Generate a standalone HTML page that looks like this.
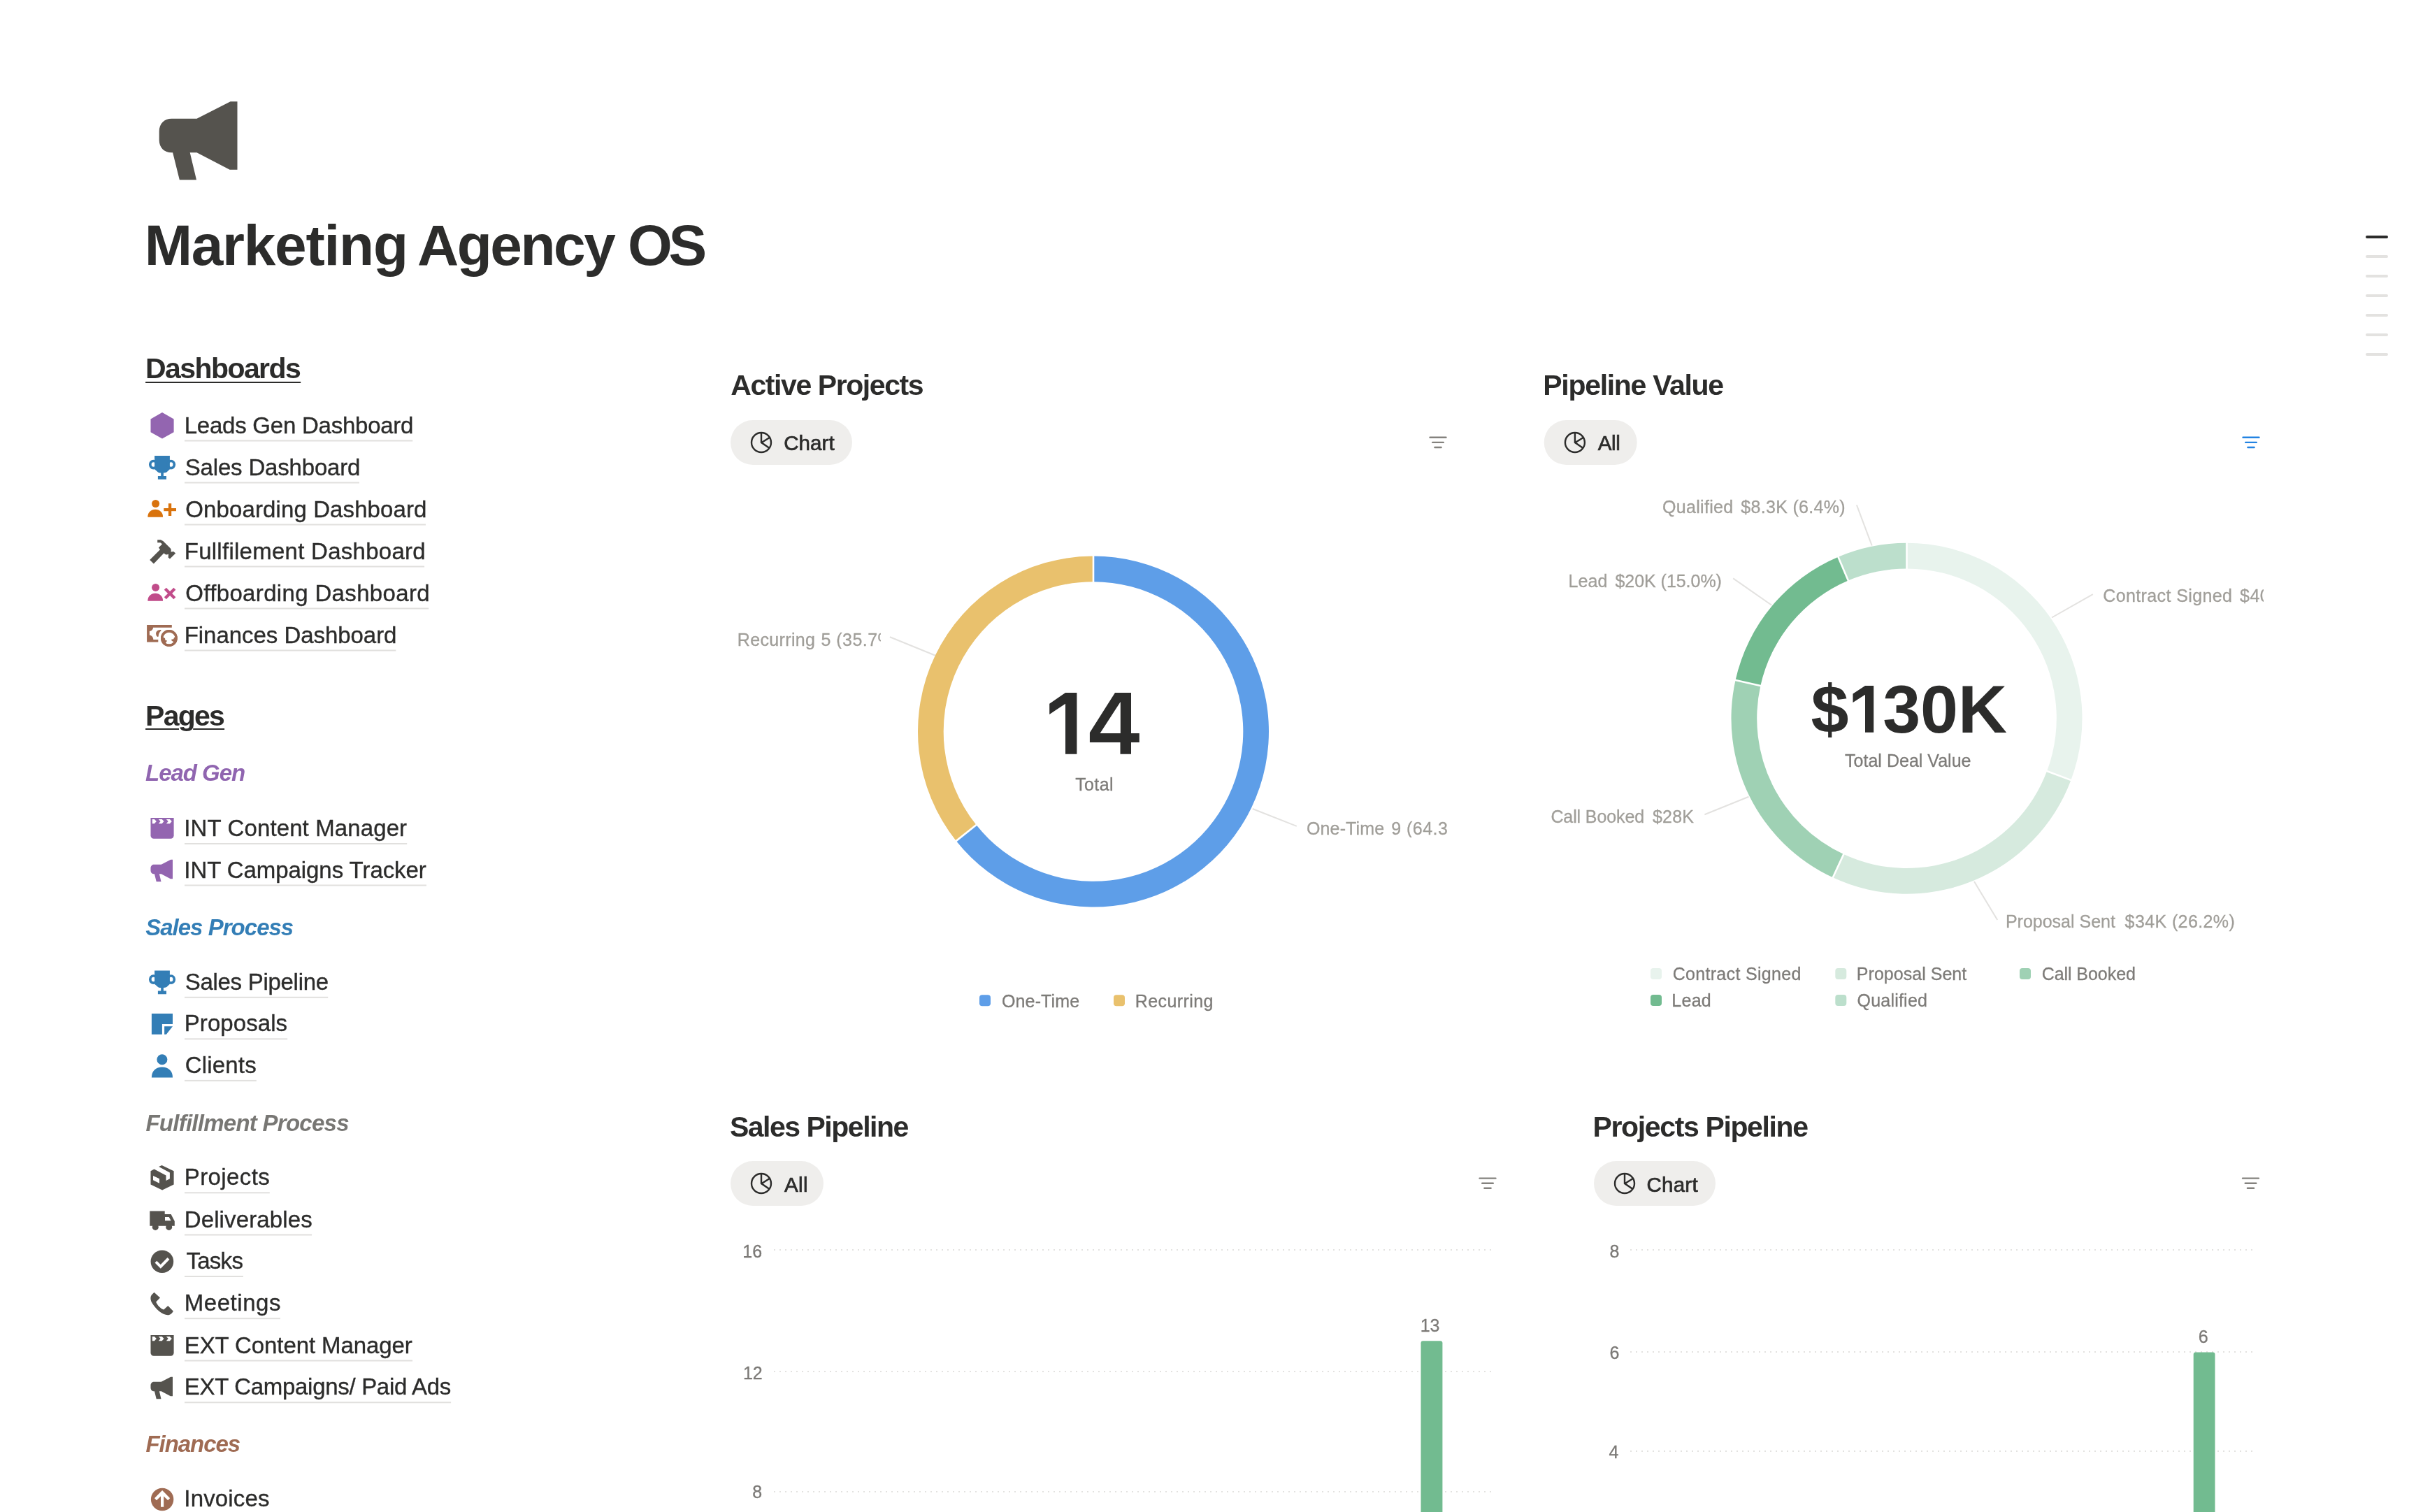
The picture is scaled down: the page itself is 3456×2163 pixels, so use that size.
<!DOCTYPE html>
<html lang="en"><head><meta charset="utf-8"><title>Marketing Agency OS</title>
<style>
html,body{margin:0;padding:0;background:#fff;}
body{width:3456px;height:2163px;position:relative;overflow:hidden;font-family:"Liberation Sans",sans-serif;}
.t{position:absolute;white-space:nowrap;}
#tx{position:absolute;left:0;top:0;width:3456px;height:2163px;will-change:transform;}
svg{position:absolute;left:0;top:0;}
</style></head><body>
<svg width="3456" height="2163" viewBox="0 0 3456 2163">
<path transform="translate(227.7 145.2) scale(1)" d="M17.8 24.5H53.8L101.9 0H111.8V97.6H100.9L53.8 73H44L53.3 112H29.1L19.4 73H17.8C7.3 73 0 65.8 0 55.2V42.5C0 31.8 7.3 24.5 17.8 24.5Z" fill="#55534e"/>
<polygon points="232,590.1 248.6,599.5 248.6,618.3 232,627.6 215.5,618.3 215.5,599.5" fill="#9365b0"/>
<g transform="translate(212.9 652)" fill="#337eb6"><path d="M8.2 0H30V19.2L25.5 23.6C24.2 24.3 22.6 24.6 21 24.6V29.1H25.1V33.7H13V29.1H17.3V24.6C15.8 24.6 14.6 24.3 13.4 23.7L8.2 19.2Z"/><ellipse cx="6.6" cy="12.6" rx="4.7" ry="5.1" fill="none" stroke="#337eb6" stroke-width="3.7"/><ellipse cx="31.7" cy="12.6" rx="4.7" ry="5.1" fill="none" stroke="#337eb6" stroke-width="3.7"/></g>
<circle cx="222.6" cy="720.5" r="5.5" fill="#d9730d"/><path d="M211.3 739.8C211.3 732.8 216.0 728.8 222.2 728.8C228.4 728.8 233.1 732.8 233.1 739.8Z" fill="#d9730d"/>
<rect x="234.3" y="727" width="17.7" height="4.2" fill="#d9730d"/><rect x="240.9" y="720.2" width="4.3" height="17.8" fill="#d9730d"/>
<polygon points="214.2,801.0 219.9,806.6 234.5,791.3 236.3,793.1 238.4,793.5 241.0,792.8 240.7,797.6 243.0,799.6 251.2,791.4 248.2,789.1 244.5,789.4 244.8,786.4 243.9,784.6 233.3,773.9 229.9,772.2 225.2,772.2 225.2,776.3 229.3,776.3 232.0,778.2 226.9,783.5 229.0,786.2" fill="#55534e"/>
<circle cx="222.6" cy="840.4" r="5.5" fill="#c14c8a"/><path d="M211.3 859.7C211.3 852.7 216.0 848.7 222.2 848.7C228.4 848.7 233.1 852.7 233.1 859.7Z" fill="#c14c8a"/>
<g transform="translate(243.1 849) rotate(45)" fill="#c14c8a"><rect x="-9.6" y="-2.15" width="19.2" height="4.3"/><rect x="-2.15" y="-9.6" width="4.3" height="19.2"/></g>
<g fill="#9f6b53"><path d="M210.1 893.9H245.8V897.8H219C219 900.6 216.7 902.9 213.9 902.9V908.8C216.8 908.8 219.3 911.5 219.3 914.9H226.3V918.5H210.1Z"/><path d="M230 901.1C225.5 900.8 223.1 903.8 223.1 906.4C223.1 908.6 224.3 910.4 225.7 911L226.7 910.5C226.6 907.2 228 904 230.7 902.1Z"/><circle cx="241.9" cy="913" r="11.9"/></g><circle cx="241.9" cy="913" r="8.6" fill="#fff"/><path d="M232.5 911.6L236 913L236.5 916L238.9 916.3L238.3 918L235.6 921.5L232.5 919Z" fill="#9f6b53"/><path d="M245.2 914.8L248.2 914.3L249.3 911.6L251.5 914L249.5 919L247.9 918L245.5 916.5Z" fill="#9f6b53"/><circle cx="241.9" cy="913" r="10.25" fill="none" stroke="#9f6b53" stroke-width="3.3"/>
<g transform="translate(215.5 1170)"><path d="M0 0H33.1V25.3a4.5 4.5 0 0 1-4.5 4.5H4.5a4.5 4.5 0 0 1-4.5-4.5Z" fill="#9365b0"/><path d="M2.4 2H5.4L8.3 5.1L5.4 8.2H2.4Z" fill="#fff"/><path d="M11.3 2H16.2L19 5.1L16.2 8.2H11.3L14.1 5.1Z" fill="#fff"/><path d="M22.4 2H27.4L30.3 5.1L27.4 8.2H22.4L25.2 5.1Z" fill="#fff"/></g>
<path transform="translate(215.5 1229.8) scale(0.2817)" d="M17.8 24.5H53.8L101.9 0H111.8V97.6H100.9L53.8 73H44L53.3 112H29.1L19.4 73H17.8C7.3 73 0 65.8 0 55.2V42.5C0 31.8 7.3 24.5 17.8 24.5Z" fill="#9365b0"/>
<g transform="translate(212.9 1388.5)" fill="#337eb6"><path d="M8.2 0H30V19.2L25.5 23.6C24.2 24.3 22.6 24.6 21 24.6V29.1H25.1V33.7H13V29.1H17.3V24.6C15.8 24.6 14.6 24.3 13.4 23.7L8.2 19.2Z"/><ellipse cx="6.6" cy="12.6" rx="4.7" ry="5.1" fill="none" stroke="#337eb6" stroke-width="3.7"/><ellipse cx="31.7" cy="12.6" rx="4.7" ry="5.1" fill="none" stroke="#337eb6" stroke-width="3.7"/></g>
<path d="M216.9 1450H247V1465H231.9V1479.8H216.9Z" fill="#337eb6"/><path d="M235.1 1468.2H247L237.9 1479.8H235.1Z" fill="#337eb6"/>
<circle cx="231.9" cy="1515.8" r="7.5" fill="#337eb6"/><path d="M216.9 1541.4C216.9 1532 223 1526.5 231.9 1526.5C240.8 1526.5 247 1532 247 1541.4Z" fill="#337eb6"/>
<polygon points="231.5,1667.0 248.6,1675.2 248.6,1694.6 232.1,1702.6 215.5,1694.6 215.5,1675.2 220.5,1672.6 237.5,1681.5 237.5,1689.0 242.9,1686.3 242.9,1677.6 227.1,1669.0" fill="#55534e"/>
<polygon points="219.0,1682.1 228.0,1686.3 228.0,1692.7 219.0,1688.3" fill="#fff"/>
<polygon points="214.3,1732.4 235.7,1732.4 235.7,1736.9 244.6,1736.9 249.8,1747.0 249.8,1753.8 214.3,1753.8" fill="#55534e"/>
<polygon points="236.0,1741.1 241.7,1741.1 244.6,1746.2 236.0,1746.2" fill="#fff"/>
<circle cx="222.3" cy="1755.4" r="4.5" fill="#55534e"/><circle cx="241.7" cy="1755.4" r="4.5" fill="#55534e"/>
<circle cx="231.9" cy="1804.8" r="16.3" fill="#55534e"/><path d="M222.9 1805.2L229.8 1812L241 1800.4" fill="none" stroke="#fff" stroke-width="4"/>
<path d="M220.5 1848.7L229 1856.6L223.2 1862.4C225 1867 229 1871.3 234.2 1873.6L240.3 1867.9L247.9 1875.8C246.2 1878.6 244 1881.3 240 1881.3C232.5 1881.3 222 1872.3 217.1 1863.3C214.9 1859 215 1854.6 217.1 1852.3Z" fill="#55534e"/>
<g transform="translate(215.5 1910)"><path d="M0 0H33.1V25.3a4.5 4.5 0 0 1-4.5 4.5H4.5a4.5 4.5 0 0 1-4.5-4.5Z" fill="#55534e"/><path d="M2.4 2H5.4L8.3 5.1L5.4 8.2H2.4Z" fill="#fff"/><path d="M11.3 2H16.2L19 5.1L16.2 8.2H11.3L14.1 5.1Z" fill="#fff"/><path d="M22.4 2H27.4L30.3 5.1L27.4 8.2H22.4L25.2 5.1Z" fill="#fff"/></g>
<path transform="translate(215.5 1969.8) scale(0.2817)" d="M17.8 24.5H53.8L101.9 0H111.8V97.6H100.9L53.8 73H44L53.3 112H29.1L19.4 73H17.8C7.3 73 0 65.8 0 55.2V42.5C0 31.8 7.3 24.5 17.8 24.5Z" fill="#55534e"/>
<circle cx="232.1" cy="2145" r="16.2" fill="#9f6b53"/><path d="M232.1 2132.1L243.2 2143.3L240.2 2146.3L234.2 2140.4V2155.8H230V2140.4L224 2146.3L221 2143.3Z" fill="#fff"/>
<rect x="208.1" y="546" width="222.1" height="2" fill="#2c2c2b"/>
<rect x="208.1" y="1042" width="47.9" height="2" fill="#2c2c2b"/><rect x="276.2" y="1042" width="44.9" height="2" fill="#2c2c2b"/>
<rect x="264" y="629.5" width="326.3" height="2" fill="#e1e0de"/><rect x="264" y="689.5" width="250.0" height="2" fill="#e1e0de"/><rect x="264" y="749.5" width="345.0" height="2" fill="#e1e0de"/><rect x="264" y="809.5" width="343.1" height="2" fill="#e1e0de"/><rect x="264" y="869.5" width="349.2" height="2" fill="#e1e0de"/><rect x="264" y="929.5" width="302.3" height="2" fill="#e1e0de"/><rect x="264" y="1206.0" width="318.2" height="2" fill="#e1e0de"/><rect x="264" y="1265.5" width="346.0" height="2" fill="#e1e0de"/><rect x="264" y="1425.8" width="205.2" height="2" fill="#e1e0de"/><rect x="264" y="1485.3" width="147.2" height="2" fill="#e1e0de"/><rect x="264" y="1544.9" width="102.8" height="2" fill="#e1e0de"/><rect x="264" y="1705.3" width="121.8" height="2" fill="#e1e0de"/><rect x="264" y="1765.5" width="182.1" height="2" fill="#e1e0de"/><rect x="264" y="1825.0" width="83.9" height="2" fill="#e1e0de"/><rect x="264" y="1885.2" width="137.0" height="2" fill="#e1e0de"/><rect x="264" y="1945.5" width="326.1" height="2" fill="#e1e0de"/><rect x="264" y="2005.3" width="381.1" height="2" fill="#e1e0de"/><rect x="264" y="2164.9" width="121.0" height="2" fill="#e1e0de"/>
<rect x="1045" y="601" width="174" height="64" rx="32" fill="#efeeec"/>
<g fill="none" stroke="#2c2c2b" stroke-width="2.4"><circle cx="1089" cy="633" r="14"/><path d="M1089 619V633L1100.6 640.9M1090 632.8L1100.8 626"/></g>
<g stroke="#84827e" stroke-width="2.4" stroke-linecap="round"><path d="M2045.5 625.8H2068.5M2049.2 632.9H2064.8M2052.4 640.0H2061.6"/></g>
<rect x="2208.7" y="601" width="133" height="64" rx="32" fill="#efeeec"/>
<g fill="none" stroke="#2c2c2b" stroke-width="2.4"><circle cx="2252.9" cy="633" r="14"/><path d="M2252.9 619V633L2264.5 640.9M2253.9 632.8L2264.7000000000003 626"/></g>
<g stroke="#2383e2" stroke-width="2.4" stroke-linecap="round"><path d="M3208.5 625.8H3231.5M3212.2 632.9H3227.8M3215.4 640.0H3224.6"/></g>
<rect x="1045" y="1661" width="133" height="64" rx="32" fill="#efeeec"/>
<g fill="none" stroke="#2c2c2b" stroke-width="2.4"><circle cx="1089" cy="1693" r="14"/><path d="M1089 1679V1693L1100.6 1700.9M1090 1692.8L1100.8 1686"/></g>
<g stroke="#84827e" stroke-width="2.4" stroke-linecap="round"><path d="M2116.5 1685.6000000000001H2139.5M2120.2 1692.7H2135.8M2123.4 1699.8H2132.6"/></g>
<rect x="2280" y="1661" width="174" height="64" rx="32" fill="#efeeec"/>
<g fill="none" stroke="#2c2c2b" stroke-width="2.4"><circle cx="2324" cy="1693" r="14"/><path d="M2324 1679V1693L2335.6 1700.9M2325 1692.8L2335.8 1686"/></g>
<g stroke="#84827e" stroke-width="2.4" stroke-linecap="round"><path d="M3208.0 1685.6000000000001H3231.0M3211.7 1692.7H3227.3M3214.9 1699.8H3224.1"/></g>
<path d="M1564.00 795.50A251 251 0 1 1 1367.76 1203.00L1396.45 1180.11A214.3 214.3 0 1 0 1564.00 832.20Z" fill="#5e9ee8"/>
<path d="M1367.76 1203.00A251 251 0 0 1 1564.00 795.50L1564.00 832.20A214.3 214.3 0 0 0 1396.45 1180.11Z" fill="#e9c16d"/>
<line x1="1564.00" y1="833.20" x2="1564.00" y2="794.50" stroke="#fff" stroke-width="2.6"/>
<line x1="1397.24" y1="1179.49" x2="1366.98" y2="1203.62" stroke="#fff" stroke-width="2.6"/>
<line x1="1273" y1="911.3" x2="1338" y2="937.7" stroke="#e3e2e0" stroke-width="2"/>
<line x1="1791.7" y1="1157" x2="1854.8" y2="1181.9" stroke="#e3e2e0" stroke-width="2"/>
<path d="M1524 991H1540.4V1078.7H1524V1006.7L1501.2 1021.9V1006.7Z" fill="#2c2c2b"/>
<path fill-rule="evenodd" d="M1595 991H1618V1048.9H1629.8V1062H1618V1078.7H1602.5V1062H1558.9V1047.9ZM1602.8 1004V1048.9H1573.6Z" fill="#2c2c2b"/>
<path d="M2668 980.9H2680.2V1047.8H2668V993.8L2650.5 1005V992.5Z" fill="#2c2c2b"/>
<rect x="1401" y="1423.3" width="16" height="16" rx="4" fill="#5e9ee8"/>
<rect x="1593" y="1423.3" width="16" height="16" rx="4" fill="#e9c16d"/>
<path d="M2727.50 776.70A251 251 0 0 1 2962.45 1116.01L2928.10 1103.10A214.3 214.3 0 0 0 2727.50 813.40Z" fill="#e8f3ed"/>
<path d="M2962.45 1116.01A251 251 0 0 1 2621.82 1255.37L2637.27 1222.08A214.3 214.3 0 0 0 2928.10 1103.10Z" fill="#d6eade"/>
<path d="M2621.82 1255.37A251 251 0 0 1 2482.54 972.95L2518.36 980.95A214.3 214.3 0 0 0 2637.27 1222.08Z" fill="#9fd1b4"/>
<path d="M2482.54 972.95A251 251 0 0 1 2629.43 796.65L2643.77 830.44A214.3 214.3 0 0 0 2518.36 980.95Z" fill="#72bb90"/>
<path d="M2629.43 796.65A251 251 0 0 1 2727.50 776.70L2727.50 813.40A214.3 214.3 0 0 0 2643.77 830.44Z" fill="#bcdfcc"/>
<line x1="2727.50" y1="814.40" x2="2727.50" y2="775.70" stroke="#fff" stroke-width="2.6"/>
<line x1="2927.16" y1="1102.75" x2="2963.39" y2="1116.36" stroke="#fff" stroke-width="2.6"/>
<line x1="2637.69" y1="1221.17" x2="2621.40" y2="1256.28" stroke="#fff" stroke-width="2.6"/>
<line x1="2519.34" y1="981.17" x2="2481.57" y2="972.73" stroke="#fff" stroke-width="2.6"/>
<line x1="2644.16" y1="831.36" x2="2629.04" y2="795.73" stroke="#fff" stroke-width="2.6"/>
<line x1="2655.9" y1="722.3" x2="2677.7" y2="780.5" stroke="#e3e2e0" stroke-width="2"/>
<line x1="2479.2" y1="827.4" x2="2534.3" y2="865.7" stroke="#e3e2e0" stroke-width="2"/>
<line x1="2993.8" y1="850.2" x2="2935" y2="883.5" stroke="#e3e2e0" stroke-width="2"/>
<line x1="2438.4" y1="1165.2" x2="2501.5" y2="1139.8" stroke="#e3e2e0" stroke-width="2"/>
<line x1="2824" y1="1261.1" x2="2857.2" y2="1316" stroke="#e3e2e0" stroke-width="2"/>
<rect x="2361" y="1385" width="16" height="16" rx="4" fill="#e8f3ed"/>
<rect x="2625.3" y="1385" width="16" height="16" rx="4" fill="#d6eade"/>
<rect x="2889" y="1385" width="16" height="16" rx="4" fill="#9fd1b4"/>
<rect x="2361" y="1423" width="16" height="16" rx="4" fill="#72bb90"/>
<rect x="2625.3" y="1423" width="16" height="16" rx="4" fill="#bcdfcc"/>
<line x1="1107" y1="1788" x2="2133" y2="1788" stroke="#e3e2e0" stroke-width="2" stroke-dasharray="2 6"/>
<line x1="1107" y1="1962" x2="2133" y2="1962" stroke="#e3e2e0" stroke-width="2" stroke-dasharray="2 6"/>
<line x1="1107" y1="2134" x2="2133" y2="2134" stroke="#e3e2e0" stroke-width="2" stroke-dasharray="2 6"/>
<line x1="2332" y1="1788" x2="3222" y2="1788" stroke="#e3e2e0" stroke-width="2" stroke-dasharray="2 6"/>
<line x1="2332" y1="1934" x2="3222" y2="1934" stroke="#e3e2e0" stroke-width="2" stroke-dasharray="2 6"/>
<line x1="2332" y1="2076" x2="3222" y2="2076" stroke="#e3e2e0" stroke-width="2" stroke-dasharray="2 6"/>
<path d="M2032.5 2163V1921.3a3 3 0 0 1 3-3h24.9a3 3 0 0 1 3 3V2163Z" fill="#72bb90"/>
<path d="M3137.7 2163V1937.4a3 3 0 0 1 3-3h24.8a3 3 0 0 1 3 3V2163Z" fill="#72bb90"/>
<rect x="3384" y="337" width="32" height="4" rx="2" fill="#2c2c2b"/>
<rect x="3384" y="365" width="32" height="4" rx="2" fill="#e3e2e0"/>
<rect x="3384" y="393" width="32" height="4" rx="2" fill="#e3e2e0"/>
<rect x="3384" y="421" width="32" height="4" rx="2" fill="#e3e2e0"/>
<rect x="3384" y="449" width="32" height="4" rx="2" fill="#e3e2e0"/>
<rect x="3384" y="477" width="32" height="4" rx="2" fill="#e3e2e0"/>
<rect x="3384" y="505" width="32" height="4" rx="2" fill="#e3e2e0"/>
</svg>
<div id="tx">
<div class="t" style="left:206.68px;top:309.99px;font-size:82px;line-height:82px;color:#2c2c2b;font-weight:700;letter-spacing:-1.249px;">Marketing</div>
<div class="t" style="left:597.09px;top:309.99px;font-size:82px;line-height:82px;color:#2c2c2b;font-weight:700;letter-spacing:-2.506px;">Agency</div>
<div class="t" style="left:898.00px;top:309.99px;font-size:82px;line-height:82px;color:#2c2c2b;font-weight:700;letter-spacing:-5.210px;">OS</div>
<div class="t" style="left:208.10px;top:507.29px;font-size:41px;line-height:41px;color:#2c2c2b;font-weight:700;letter-spacing:-1.592px;">Dashboards</div>
<div class="t" style="left:208.10px;top:1003.69px;font-size:41px;line-height:41px;color:#2c2c2b;font-weight:700;letter-spacing:-1.756px;">Pages</div>
<div class="t" style="left:208.12px;top:1089.47px;font-size:33px;line-height:33px;color:#9065b0;font-weight:700;font-style:italic;letter-spacing:-1.051px;">Lead Gen</div>
<div class="t" style="left:208.16px;top:1309.67px;font-size:33px;line-height:33px;color:#337eb6;font-weight:700;font-style:italic;letter-spacing:-0.980px;">Sales Process</div>
<div class="t" style="left:208.38px;top:1590.37px;font-size:33px;line-height:33px;color:#787774;font-weight:700;font-style:italic;letter-spacing:-0.734px;">Fulfillment Process</div>
<div class="t" style="left:208.38px;top:2049.17px;font-size:33px;line-height:33px;color:#9f6b53;font-weight:700;font-style:italic;letter-spacing:-1.030px;">Finances</div>
<div class="t" style="left:263.72px;top:591.57px;font-size:33px;line-height:33px;color:#2c2c2b;-webkit-text-stroke:0.35px #2c2c2b;letter-spacing:-0.240px;">Leads Gen Dashboard</div>
<div class="t" style="left:264.73px;top:651.57px;font-size:33px;line-height:33px;color:#2c2c2b;-webkit-text-stroke:0.35px #2c2c2b;letter-spacing:-0.173px;">Sales Dashboard</div>
<div class="t" style="left:265.29px;top:711.57px;font-size:33px;line-height:33px;color:#2c2c2b;-webkit-text-stroke:0.35px #2c2c2b;letter-spacing:0.111px;">Onboarding Dashboard</div>
<div class="t" style="left:263.72px;top:771.57px;font-size:33px;line-height:33px;color:#2c2c2b;-webkit-text-stroke:0.35px #2c2c2b;letter-spacing:0.268px;">Fullfilement Dashboard</div>
<div class="t" style="left:265.29px;top:831.57px;font-size:33px;line-height:33px;color:#2c2c2b;-webkit-text-stroke:0.35px #2c2c2b;letter-spacing:0.344px;">Offboarding Dashboard</div>
<div class="t" style="left:263.72px;top:891.57px;font-size:33px;line-height:33px;color:#2c2c2b;-webkit-text-stroke:0.35px #2c2c2b;letter-spacing:-0.045px;">Finances Dashboard</div>
<div class="t" style="left:263.33px;top:1168.07px;font-size:33px;line-height:33px;color:#2c2c2b;-webkit-text-stroke:0.35px #2c2c2b;letter-spacing:0.113px;">INT Content Manager</div>
<div class="t" style="left:263.33px;top:1227.57px;font-size:33px;line-height:33px;color:#2c2c2b;-webkit-text-stroke:0.35px #2c2c2b;letter-spacing:-0.068px;">INT Campaigns Tracker</div>
<div class="t" style="left:264.73px;top:1387.87px;font-size:33px;line-height:33px;color:#2c2c2b;-webkit-text-stroke:0.35px #2c2c2b;letter-spacing:-0.288px;">Sales Pipeline</div>
<div class="t" style="left:263.72px;top:1447.37px;font-size:33px;line-height:33px;color:#2c2c2b;-webkit-text-stroke:0.35px #2c2c2b;letter-spacing:0.080px;">Proposals</div>
<div class="t" style="left:264.76px;top:1506.97px;font-size:33px;line-height:33px;color:#2c2c2b;-webkit-text-stroke:0.35px #2c2c2b;letter-spacing:0.179px;">Clients</div>
<div class="t" style="left:263.72px;top:1667.37px;font-size:33px;line-height:33px;color:#2c2c2b;-webkit-text-stroke:0.35px #2c2c2b;letter-spacing:0.397px;">Projects</div>
<div class="t" style="left:263.72px;top:1727.57px;font-size:33px;line-height:33px;color:#2c2c2b;-webkit-text-stroke:0.35px #2c2c2b;letter-spacing:0.127px;">Deliverables</div>
<div class="t" style="left:266.40px;top:1787.07px;font-size:33px;line-height:33px;color:#2c2c2b;-webkit-text-stroke:0.35px #2c2c2b;letter-spacing:-0.714px;">Tasks</div>
<div class="t" style="left:263.72px;top:1847.27px;font-size:33px;line-height:33px;color:#2c2c2b;-webkit-text-stroke:0.35px #2c2c2b;letter-spacing:0.554px;">Meetings</div>
<div class="t" style="left:263.72px;top:1907.57px;font-size:33px;line-height:33px;color:#2c2c2b;-webkit-text-stroke:0.35px #2c2c2b;letter-spacing:-0.099px;">EXT Content Manager</div>
<div class="t" style="left:263.72px;top:1967.37px;font-size:33px;line-height:33px;color:#2c2c2b;-webkit-text-stroke:0.35px #2c2c2b;letter-spacing:-0.305px;">EXT Campaigns/ Paid Ads</div>
<div class="t" style="left:263.33px;top:2126.97px;font-size:33px;line-height:33px;color:#2c2c2b;-webkit-text-stroke:0.35px #2c2c2b;letter-spacing:0.159px;">Invoices</div>
<div class="t" style="left:1045.19px;top:531.39px;font-size:41px;line-height:41px;color:#2c2c2b;font-weight:700;letter-spacing:-1.414px;">Active Projects</div>
<div class="t" style="left:2207.25px;top:531.39px;font-size:41px;line-height:41px;color:#2c2c2b;font-weight:700;letter-spacing:-1.300px;">Pipeline Value</div>
<div class="t" style="left:1043.90px;top:1592.19px;font-size:41px;line-height:41px;color:#2c2c2b;font-weight:700;letter-spacing:-1.487px;">Sales Pipeline</div>
<div class="t" style="left:2278.45px;top:1592.19px;font-size:41px;line-height:41px;color:#2c2c2b;font-weight:700;letter-spacing:-1.358px;">Projects Pipeline</div>
<div class="t" style="left:1121.13px;top:619.43px;font-size:29.5px;line-height:29.5px;color:#2c2c2b;-webkit-text-stroke:0.7px #2c2c2b;letter-spacing:0.081px;">Chart</div>
<div class="t" style="left:2285.85px;top:619.43px;font-size:29.5px;line-height:29.5px;color:#2c2c2b;-webkit-text-stroke:0.7px #2c2c2b;letter-spacing:-0.429px;">All</div>
<div class="t" style="left:1121.91px;top:1680.23px;font-size:29.5px;line-height:29.5px;color:#2c2c2b;-webkit-text-stroke:0.7px #2c2c2b;letter-spacing:0.430px;">All</div>
<div class="t" style="left:2355.54px;top:1680.23px;font-size:29.5px;line-height:29.5px;color:#2c2c2b;-webkit-text-stroke:0.7px #2c2c2b;letter-spacing:0.229px;">Chart</div>
<div class="t" style="left:1538.23px;top:1110.24px;font-size:25px;line-height:25px;color:#7d7b78;-webkit-text-stroke:0.3px #7d7b78;letter-spacing:0.361px;">Total</div>
<div class="t" style="left:1054.86px;top:902.84px;font-size:25px;line-height:25px;color:#a09e99;-webkit-text-stroke:0.3px #a09e99;letter-spacing:0.334px;">Recurring</div>
<div class="t" style="left:1174.60px;top:902.84px;font-size:25px;line-height:25px;color:#a09e99;-webkit-text-stroke:0.3px #a09e99;letter-spacing:0.450px;width:85.20px;overflow:hidden;">5 (35.7%)</div>
<div class="t" style="left:1869.00px;top:1172.94px;font-size:25px;line-height:25px;color:#a09e99;-webkit-text-stroke:0.3px #a09e99;letter-spacing:0.131px;">One-Time</div>
<div class="t" style="left:1990.30px;top:1172.94px;font-size:25px;line-height:25px;color:#a09e99;-webkit-text-stroke:0.3px #a09e99;letter-spacing:0.450px;width:80.20px;overflow:hidden;">9 (64.3%)</div>
<div class="t" style="left:1433.00px;top:1419.54px;font-size:25px;line-height:25px;color:#7d7b78;-webkit-text-stroke:0.3px #7d7b78;letter-spacing:0.131px;">One-Time</div>
<div class="t" style="left:1623.86px;top:1419.54px;font-size:25px;line-height:25px;color:#7d7b78;-webkit-text-stroke:0.3px #7d7b78;letter-spacing:0.387px;">Recurring</div>
<div class="t" style="left:2590.60px;top:966.19px;font-size:97px;line-height:97px;color:#2c2c2b;font-weight:700;">$</div>
<div class="t" style="left:2693.22px;top:966.19px;font-size:97px;line-height:97px;color:#2c2c2b;font-weight:700;letter-spacing:-0.070px;">30K</div>
<div class="t" style="left:2639.06px;top:1076.14px;font-size:25px;line-height:25px;color:#7d7b78;-webkit-text-stroke:0.3px #7d7b78;letter-spacing:0.016px;">Total Deal Value</div>
<div class="t" style="left:2378.00px;top:712.54px;font-size:25px;line-height:25px;color:#a09e99;-webkit-text-stroke:0.3px #a09e99;letter-spacing:0.304px;">Qualified</div>
<div class="t" style="left:2490.34px;top:712.54px;font-size:25px;line-height:25px;color:#a09e99;-webkit-text-stroke:0.3px #a09e99;letter-spacing:0.303px;">$8.3K (6.4%)</div>
<div class="t" style="left:2243.51px;top:819.04px;font-size:25px;line-height:25px;color:#a09e99;-webkit-text-stroke:0.3px #a09e99;letter-spacing:0.075px;">Lead</div>
<div class="t" style="left:2310.48px;top:819.04px;font-size:25px;line-height:25px;color:#a09e99;-webkit-text-stroke:0.3px #a09e99;letter-spacing:-0.039px;">$20K (15.0%)</div>
<div class="t" style="left:3008.24px;top:840.44px;font-size:25px;line-height:25px;color:#a09e99;-webkit-text-stroke:0.3px #a09e99;letter-spacing:0.388px;">Contract Signed</div>
<div class="t" style="left:3204.10px;top:840.44px;font-size:25px;line-height:25px;color:#a09e99;-webkit-text-stroke:0.3px #a09e99;letter-spacing:0.450px;width:33.50px;overflow:hidden;">$40K (30.8%)</div>
<div class="t" style="left:2218.40px;top:1156.34px;font-size:25px;line-height:25px;color:#a09e99;-webkit-text-stroke:0.3px #a09e99;letter-spacing:-0.110px;">Call Booked</div>
<div class="t" style="left:2364.00px;top:1156.34px;font-size:25px;line-height:25px;color:#a09e99;-webkit-text-stroke:0.3px #a09e99;letter-spacing:0.181px;">$28K</div>
<div class="t" style="left:2868.92px;top:1306.04px;font-size:25px;line-height:25px;color:#a09e99;-webkit-text-stroke:0.3px #a09e99;letter-spacing:-0.001px;">Proposal Sent</div>
<div class="t" style="left:3039.62px;top:1306.04px;font-size:25px;line-height:25px;color:#a09e99;-webkit-text-stroke:0.3px #a09e99;letter-spacing:0.391px;">$34K (26.2%)</div>
<div class="t" style="left:2392.64px;top:1381.34px;font-size:25px;line-height:25px;color:#7d7b78;-webkit-text-stroke:0.3px #7d7b78;letter-spacing:0.317px;">Contract Signed</div>
<div class="t" style="left:2655.85px;top:1381.34px;font-size:25px;line-height:25px;color:#7d7b78;-webkit-text-stroke:0.3px #7d7b78;letter-spacing:0.028px;">Proposal Sent</div>
<div class="t" style="left:2920.64px;top:1381.34px;font-size:25px;line-height:25px;color:#7d7b78;-webkit-text-stroke:0.3px #7d7b78;letter-spacing:-0.054px;">Call Booked</div>
<div class="t" style="left:2391.31px;top:1419.04px;font-size:25px;line-height:25px;color:#7d7b78;-webkit-text-stroke:0.3px #7d7b78;letter-spacing:0.261px;">Lead</div>
<div class="t" style="left:2656.58px;top:1419.04px;font-size:25px;line-height:25px;color:#7d7b78;-webkit-text-stroke:0.3px #7d7b78;letter-spacing:0.206px;">Qualified</div>
<div class="t" style="left:1062.30px;top:1778.24px;font-size:25px;line-height:25px;color:#7b7976;-webkit-text-stroke:0.3px #7b7976;">16</div>
<div class="t" style="left:1062.92px;top:1951.74px;font-size:25px;line-height:25px;color:#7b7976;-webkit-text-stroke:0.3px #7b7976;">12</div>
<div class="t" style="left:1076.20px;top:2122.24px;font-size:25px;line-height:25px;color:#7b7976;-webkit-text-stroke:0.3px #7b7976;">8</div>
<div class="t" style="left:2302.43px;top:1778.24px;font-size:25px;line-height:25px;color:#7b7976;-webkit-text-stroke:0.3px #7b7976;">8</div>
<div class="t" style="left:2302.46px;top:1923.14px;font-size:25px;line-height:25px;color:#7b7976;-webkit-text-stroke:0.3px #7b7976;">6</div>
<div class="t" style="left:2301.53px;top:2065.24px;font-size:25px;line-height:25px;color:#7b7976;-webkit-text-stroke:0.3px #7b7976;">4</div>
<div class="t" style="left:2031.70px;top:1884.34px;font-size:25px;line-height:25px;color:#7b7976;-webkit-text-stroke:0.3px #7b7976;">13</div>
<div class="t" style="left:3144.76px;top:1900.24px;font-size:25px;line-height:25px;color:#7b7976;-webkit-text-stroke:0.3px #7b7976;">6</div>
</div>
</body></html>
